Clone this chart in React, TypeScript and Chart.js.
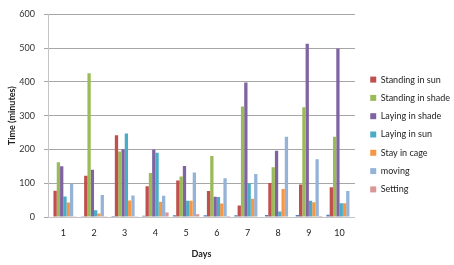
import React, { useEffect, useRef } from "react";
import { Chart, registerables } from "chart.js";

Chart.register(...registerables);

const days = ["1", "2", "3", "4", "5", "6", "7", "8", "9", "10"];
const unnamed = [0, 2, 3, 4, 5, 5, 5, 6, 6, 7];
const standingInSun = [78, 122, 242, 91, 108, 77, 34, 101, 96, 88];
const standingInShade = [162, 426, 194, 130, 120, 181, 327, 147, 325, 238];
const layingInShade = [150, 140, 201, 200, 151, 60, 398, 196, 513, 499];
const layingInSun = [61, 20, 247, 190, 48, 59, 100, 16, 48, 41];
const stayInCage = [43, 10, 49, 45, 48, 40, 54, 83, 44, 41];
const moving = [98, 65, 64, 63, 132, 115, 127, 238, 171, 77];
const setting = [1, 2, 1, 13, 8, 3, 0, 0, 3, 0];
const yTicks = [0, 100, 200, 300, 400, 500, 600];

const FONT = "Lato, 'Open Sans', sans-serif";

export default function App() {
  const ref = useRef<HTMLCanvasElement>(null);
  useEffect(() => {
    if (!ref.current) return;
    const shiftLegend = {
      id: "shiftLegend",
      afterLayout(chart: any) {
        const lg = chart.legend;
        if (lg) {
          lg.left += 6;
          lg.right += 6;
          lg.top += 2;
          lg.bottom += 2;
        }
      },
    };
    const chart = new Chart(ref.current, {
      type: "bar",
      data: {
        labels: days,
        datasets: [
          { label: "", data: unnamed, backgroundColor: "#4F81BD" },
          { label: "Standing in sun", data: standingInSun, backgroundColor: "#C0504D" },
          { label: "Standing in shade", data: standingInShade, backgroundColor: "#9BBB59" },
          { label: "Laying in shade", data: layingInShade, backgroundColor: "#8064A2" },
          { label: "Laying in sun", data: layingInSun, backgroundColor: "#4BACC6" },
          { label: "Stay in cage", data: stayInCage, backgroundColor: "#F79646" },
          { label: "moving", data: moving, backgroundColor: "#95B3D7" },
          { label: "Setting", data: setting, backgroundColor: "#D99694" },
        ],
      },
      options: {
        animation: false,
        responsive: false,
        maintainAspectRatio: false,
        layout: { padding: 0 },
        datasets: { bar: { categoryPercentage: 0.86, barPercentage: 1 } },
        plugins: {
          tooltip: { enabled: false },
          legend: {
            position: "right",
            align: "center",
            labels: {
              boxWidth: 6,
              boxHeight: 6,
              padding: 9.3,
              color: "#222",
              font: { family: FONT, size: 9 },
              filter: (item: any) => item.text !== "",
            },
          },
        },
        scales: {
          x: {
            grid: { display: false, drawTicks: false },
            border: { color: "#c4c4c4" },
            ticks: { color: "#222", font: { family: FONT, size: 9 }, padding: 11 },
            title: {
              display: true,
              text: "Days",
              color: "#222",
              font: { family: FONT, size: 9, weight: "bold" },
              padding: { top: 0, bottom: 6 },
            },
            afterFit: (s: any) => {
              s.height = 48;
            },
          },
          y: {
            min: 0,
            max: 600,
            afterBuildTicks: (s: any) => {
              s.ticks = yTicks.map((v) => ({ value: v }));
            },
            grid: { color: "#a6a6a6", tickLength: 4, tickColor: "#a6a6a6" },
            border: { color: "#c4c4c4" },
            ticks: { color: "#333", font: { family: FONT, size: 9 }, padding: 9 },
            title: {
              display: true,
              text: "Time (minutes)",
              color: "#222",
              font: { family: FONT, size: 9, weight: "bold" },
              padding: { top: 7, bottom: 0 },
            },
            afterFit: (s: any) => {
              s.width = 48;
            },
          },
        },
      },
      plugins: [shiftLegend],
    } as any);
    return () => chart.destroy();
  }, []);
  return (
    <div style={{ position: "fixed", left: 0, top: 0, width: 454, height: 265, background: "#fff" }}>
      <canvas ref={ref} width={454} height={265} style={{ width: 454, height: 265 }} />
    </div>
  );
}
